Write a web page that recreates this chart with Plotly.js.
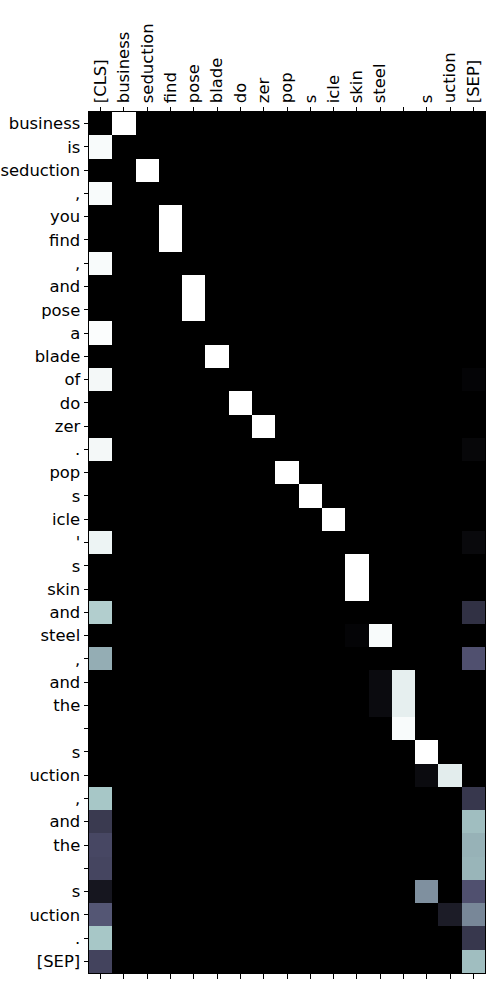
<!DOCTYPE html>
<html><head><meta charset="utf-8">
<script src="https://cdn.plot.ly/plotly-3.0.1.min.js"></script>
<style>body{margin:0;background:#fff}#chart{width:500px;height:1000px}</style>
</head><body><div id="chart"></div>
<script>
const colLabels = ["[CLS]","business","seduction","find","pose","blade","do","zer","pop","s","icle","skin","steel","","s","uction","[SEP]"];
const rowLabels = ["business","is","seduction",",","you","find",",","and","pose","a","blade","of","do","zer",".","pop","s","icle","'","s","skin","and","steel",",","and","the","","s","uction",",","and","the","","s","uction",".","[SEP]"];
// non-zero attention cells: row index, column index, weight
const cellRow = [0,1,2,3,4,5,6,7,8,9,10,11,11,12,13,14,14,15,16,17,18,18,19,20,21,21,22,22,23,23,24,24,25,25,26,27,28,28,29,29,30,30,31,31,32,32,33,33,33,34,34,34,35,35,36,36];
const cellCol = [1,0,2,0,3,3,0,4,4,0,5,0,16,6,7,0,16,8,9,10,0,16,11,11,0,16,12,11,0,16,13,12,13,12,13,14,15,14,0,16,0,16,0,16,0,16,0,14,16,0,15,16,0,16,0,16];
const cellVal = [1.0,0.98,1.0,0.98,1.0,1.0,0.98,1.0,1.0,0.99,1.0,0.97,0.02,1.0,1.0,0.97,0.03,1.0,1.0,1.0,0.95,0.04,1.0,1.0,0.78,0.22,0.98,0.02,0.665,0.36,0.93,0.05,0.93,0.05,0.98,1.0,0.92,0.05,0.75,0.25,0.26,0.72,0.32,0.68,0.31,0.69,0.1,0.57,0.36,0.38,0.125,0.54,0.75,0.25,0.3,0.72];

const z = rowLabels.map(() => colLabels.map(() => 0));
cellRow.forEach((r, i) => { z[r][cellCol[i]] = cellVal[i]; });

const xIdx = colLabels.map((_, i) => i);
const yIdx = rowLabels.map((_, i) => i);

const bone = [[0,'rgb(0,0,0)'],[0.365079,'rgb(81,81,113)'],[0.746032,'rgb(166,198,198)'],[1,'rgb(255,255,255)']];

const font = {family:'DejaVu Sans', size:16.4, color:'#000'};
const data = [{
  type:'heatmap', z:z, x:xIdx, y:yIdx, colorscale:bone, zmin:0, zmax:1,
  showscale:false, hoverongaps:false, xgap:0, ygap:0
},{
  type:'scatter', x:[0], y:[0], xaxis:'x2', mode:'markers', marker:{opacity:0}, hoverinfo:'skip', showlegend:false
}];
const layout = {
  width:500, height:1000,
  margin:{l:89, r:15, t:112, b:27, pad:0},
  paper_bgcolor:'#fff', plot_bgcolor:'#000',
  font:font, showlegend:false,
  xaxis:{side:'top', range:[-0.5,16.5], tickmode:'array', tickvals:xIdx, ticktext:colLabels,
    tickangle:-90, ticks:'outside', ticklen:4.5, tickwidth:1, tickcolor:'#000',
    showgrid:false, zeroline:false, showline:true, linecolor:'#000', linewidth:1, mirror:true,
    tickfont:font, fixedrange:true},
  xaxis2:{overlaying:'x', side:'bottom', range:[-0.5,16.5], tickmode:'array', tickvals:xIdx,
    ticktext:colLabels.map(() => ''), ticks:'outside', ticklen:4.5, tickwidth:1, tickcolor:'#000',
    showgrid:false, zeroline:false, showline:false, showticklabels:false, anchor:'y'},
  yaxis:{range:[36.5,-0.5], tickmode:'array', tickvals:yIdx, ticktext:rowLabels,
    ticks:'outside', ticklen:4.5, tickwidth:1, tickcolor:'#000',
    showgrid:false, zeroline:false, showline:true, linecolor:'#000', linewidth:1, mirror:true,
    tickfont:font, fixedrange:true}
};
Plotly.newPlot('chart', data, layout, {displayModeBar:false, staticPlot:true});
</script>
</body></html>
